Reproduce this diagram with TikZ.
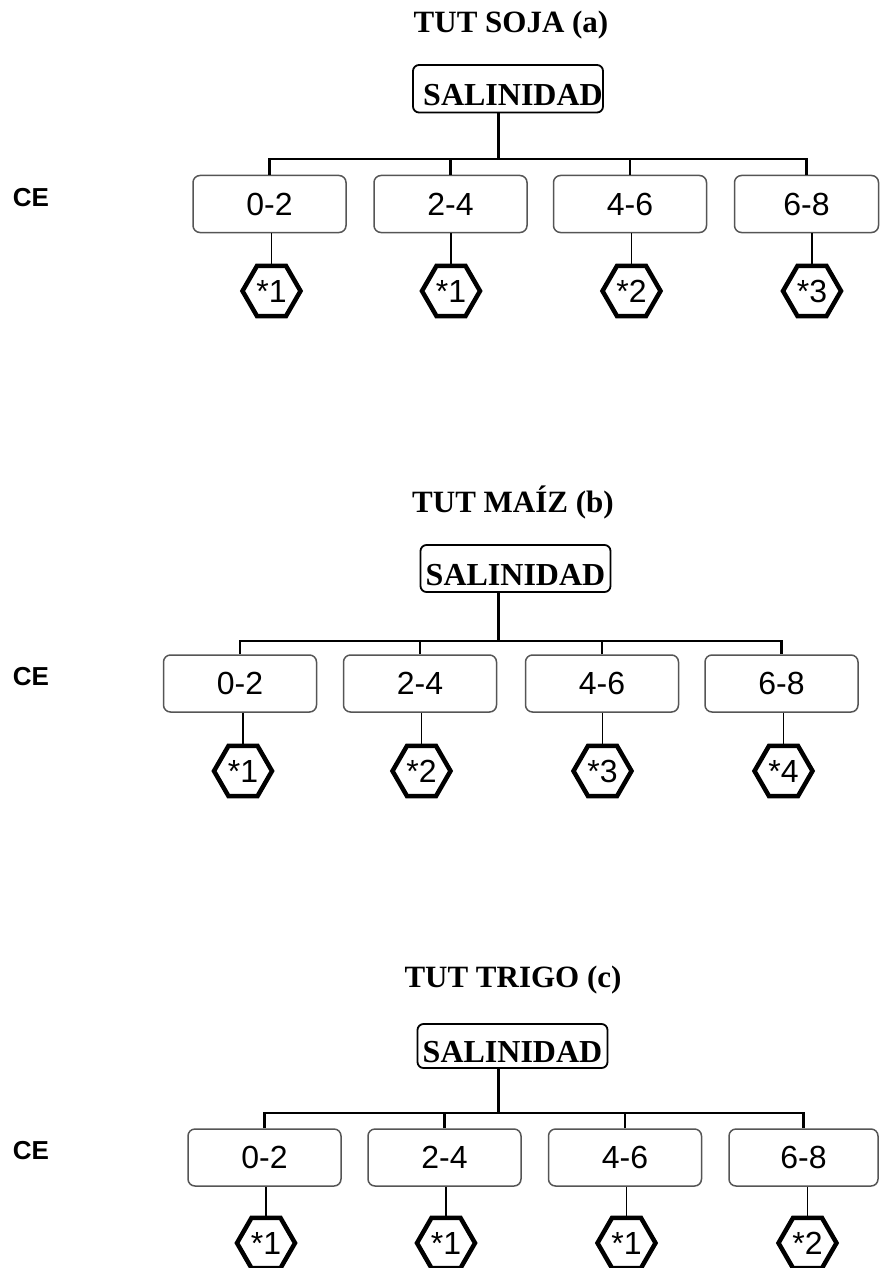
\documentclass[tikz,border=0pt]{standalone}
\usepackage{fontspec}
\setmainfont{Liberation Serif}
\setsansfont{Liberation Sans}
\usetikzlibrary{shapes.geometric}
\definecolor{boxgray}{RGB}{85,85,85}
\tikzset{
  titletxt/.style={font=\rmfamily\bfseries\fontsize{31}{36}\selectfont, anchor=base, inner sep=0pt},
  rootbox/.style={draw=black, line width=1.8pt, rounded corners=6pt,
    font=\rmfamily\bfseries\fontsize{32}{38}\selectfont, minimum width=190pt,
    inner xsep=0pt, inner ysep=0pt, text depth=6.5pt, anchor=base},
  rangebox/.style={draw=boxgray, line width=1.5pt, rounded corners=7pt,
    minimum width=153pt, minimum height=57pt, inner sep=0pt,
    font=\sffamily\fontsize{32}{38}\selectfont},
  hexnode/.style={draw=black, line width=4.5pt, regular polygon, regular polygon sides=6,
    minimum size=58pt, inner sep=0pt, font=\sffamily\fontsize{32}{36}\selectfont},
  celabel/.style={font=\sffamily\bfseries\fontsize{26}{30}\selectfont, inner sep=0pt},
  trunk/.style={line width=3pt},
  busline/.style={line width=2.6pt},
  leafline/.style={line width=1.5pt},
}
\begin{document}
\begin{tikzpicture}[x=1pt,y=-1pt]
\useasboundingbox (0,0) rectangle (880,1268);
\fill[white] (0,0) rectangle (880,1268);

% ---------- (a) ----------
\node[titletxt] (tA) at (511,33) {TUT SOJA (a)};
\node[rootbox, text height=41pt] (rA) at (508,106) {\hspace*{10pt}SALINIDAD};
\node[celabel] (ceA) at (31,197.5) {CE};
\node[rangebox] (a1) at (269.5,204) {0-2};
\node[rangebox] (a2) at (450.5,204) {2-4};
\node[rangebox] (a3) at (630,204) {4-6};
\node[rangebox, minimum width=144pt] (a4) at (806.5,204) {6-8};
\node[hexnode] (ha1) at (271.5,291) {*1};
\node[hexnode] (ha2) at (451,291) {*1};
\node[hexnode] (ha3) at (631.5,291) {*2};
\node[hexnode] (ha4) at (812,291) {*3};
\coordinate (jA) at (498,159);
\draw[trunk] (rA.south -| jA) -- (jA);
\draw[busline] (a1.north) |- (jA) -| (a4.north);
\draw[busline] (a2.north) -- (a2.north |- jA);
\draw[busline] (a3.north) -- (a3.north |- jA);
\foreach \i in {1,2,3,4} {\draw[leafline] (ha\i.north |- a\i.south) -- (ha\i.north);}

% ---------- (b) ----------
\node[titletxt] (tB) at (513,512) {TUT MAÍZ (b)};
\node[rootbox, text height=40pt, text depth=7pt] (rB) at (515.5,585) {SALINIDAD};
\node[celabel] (ceB) at (31,677) {CE};
\node[rangebox] (b1) at (240,683.5) {0-2};
\node[rangebox] (b2) at (420,683.5) {2-4};
\node[rangebox] (b3) at (602,683.5) {4-6};
\node[rangebox] (b4) at (781.5,683.5) {6-8};
\node[hexnode] (hb1) at (243,771) {*1};
\node[hexnode] (hb2) at (421.5,771) {*2};
\node[hexnode] (hb3) at (602.5,771) {*3};
\node[hexnode] (hb4) at (783.5,771) {*4};
\coordinate (jB) at (498,641);
\draw[trunk] (rB.south -| jB) -- (jB);
\draw[busline] (b1.north) |- (jB) -| (b4.north);
\draw[busline] (b2.north) -- (b2.north |- jB);
\draw[busline] (b3.north) -- (b3.north |- jB);
\foreach \i in {1,2,3,4} {\draw[leafline] (hb\i.north |- b\i.south) -- (hb\i.north);}

% ---------- (c) ----------
\node[titletxt] (tC) at (513,987) {TUT TRIGO (c)};
\node[rootbox, text height=38pt, text depth=6pt] (rC) at (512.5,1062) {SALINIDAD};
\node[celabel] (ceC) at (31,1151) {CE};
\node[rangebox] (c1) at (264.5,1157.5) {0-2};
\node[rangebox] (c2) at (444.5,1157.5) {2-4};
\node[rangebox] (c3) at (625,1157.5) {4-6};
\node[rangebox, minimum width=149pt] (c4) at (803.5,1157.5) {6-8};
\node[hexnode] (hc1) at (266,1243) {*1};
\node[hexnode] (hc2) at (446,1243) {*1};
\node[hexnode] (hc3) at (626.5,1243) {*1};
\node[hexnode] (hc4) at (807.5,1243) {*2};
\coordinate (jC) at (498,1113);
\draw[trunk] (rC.south -| jC) -- (jC);
\draw[busline] (c1.north) |- (jC) -| (c4.north);
\draw[busline] (c2.north) -- (c2.north |- jC);
\draw[busline] (c3.north) -- (c3.north |- jC);
\foreach \i in {1,2,3,4} {\draw[leafline] (hc\i.north |- c\i.south) -- (hc\i.north);}
\end{tikzpicture}
\end{document}
